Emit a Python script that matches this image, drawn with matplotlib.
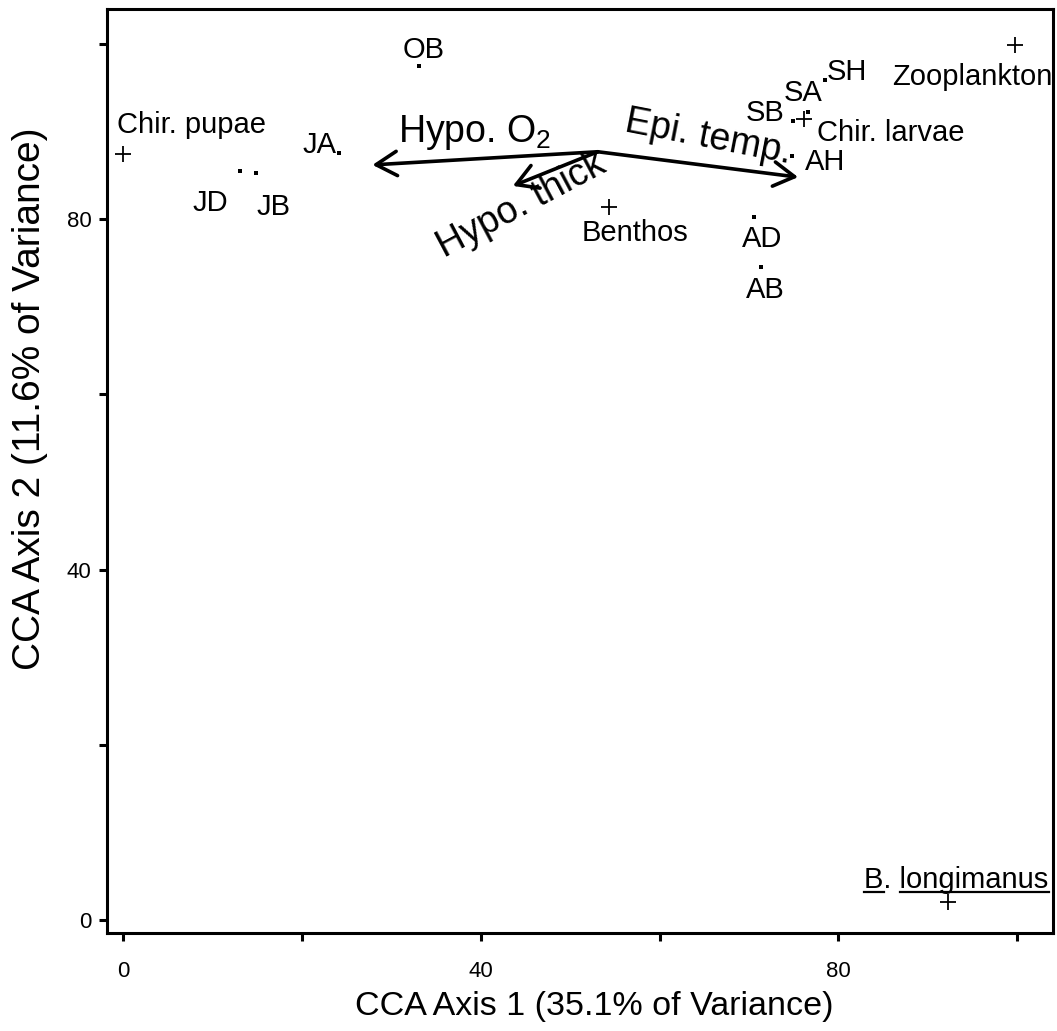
import matplotlib
matplotlib.use("Agg")
import matplotlib.pyplot as plt
from matplotlib.lines import Line2D

plt.rcParams.update({
    "font.family": ["Liberation Sans", "DejaVu Sans"],
    "mathtext.fontset": "custom",
    "mathtext.rm": "Liberation Sans",
    "mathtext.it": "Liberation Sans:italic",
})

# Site scores (sampling stations)
sites = ["JA", "JB", "JD", "OB", "AB", "AD", "AH", "SB", "SA", "SH"]
site_x = [24.2, 14.9, 13.1, 33.1, 71.4, 70.6, 74.8, 74.9, 76.6, 78.5]
site_y = [87.6, 85.3, 85.5, 97.5, 74.5, 80.3, 87.2, 91.2, 92.2, 95.9]

# Species / prey-type scores
prey = ["Chir. pupae", "Benthos", "Chir. larvae", "Zooplankton", "B. longimanus"]
prey_x = [0.0, 54.3, 76.2, 99.8, 92.3]
prey_y = [87.4, 81.4, 91.4, 99.9, 2.05]

# Environmental vectors: common origin and tips
env_origin = (53.1, 87.7)
env_names = ["Hypo. O2", "Hypo. thick", "Epi. temp."]
env_tip_x = [27.9, 43.6, 75.5]
env_tip_y = [86.2, 83.8, 84.8]

xticks = [0, 20, 40, 60, 80, 100]
xtick_labels = ["0", "", "40", "", "80", ""]
yticks = [0, 20, 40, 60, 80, 100]
ytick_labels = ["0", "", "40", "", "80", ""]

fig = plt.figure(figsize=(10.57, 10.31), dpi=100)
ax = fig.add_axes([0.1012, 0.0951, 0.8950, 0.8962])

ax.scatter(site_x, site_y, marker="s", s=7, c="black", lw=0)
ax.scatter(prey_x, prey_y, marker="+", s=130, c="black", lw=1.3)

# Arrows for the environmental variables
for tx, ty in zip(env_tip_x, env_tip_y):
    ax.annotate("", xy=(tx, ty), xytext=env_origin,
                arrowprops=dict(arrowstyle="->,head_length=0.6,head_width=0.35",
                                mutation_scale=25, lw=2.6, color="black",
                                shrinkA=0, shrinkB=0))

fs = 21
lab = dict(fontsize=fs, ha="center", va="center")
# Site labels
site_lab = {
    "JA": (22.0, 88.5), "JB": (16.8, 81.4), "JD": (9.8, 81.8), "OB": (33.6, 99.3),
    "AB": (71.8, 71.9), "AD": (71.5, 77.7), "AH": (78.5, 86.5), "SB": (71.8, 92.1),
    "SA": (76.0, 94.4), "SH": (81.0, 96.8),
}
for name in sites:
    ax.text(*site_lab[name], name, **lab)

ax.text(-0.7, 90.8, "Chir. pupae", fontsize=fs, ha="left", va="center")
ax.text(57.3, 78.4, "Benthos", **lab)
ax.text(77.6, 89.8, "Chir. larvae", fontsize=fs, ha="left", va="center")
ax.text(95.0, 96.2, "Zooplankton", **lab)
bl = ax.text(93.2, 3.65, "B. longimanus", fontsize=fs, ha="center", va="baseline")

# Vector labels
ax.text(39.3, 88.8, "Hypo. O$_2$", fontsize=27, ha="center", va="baseline")
ax.text(65.4, 89.3, "Epi. temp.", fontsize=27, ha="center", va="center", rotation=-11)
ax.text(44.5, 81.6, "Hypo. thick", fontsize=27, ha="center", va="center", rotation=28)

ax.set_xlim(-1.79, 104.0)
ax.set_ylim(-1.48, 104.0)
ax.set_xticks(xticks)
ax.set_xticklabels(xtick_labels)
ax.set_yticks(yticks)
ax.set_yticklabels(ytick_labels)
ax.tick_params(axis="both", direction="out", length=6, width=2.2, labelsize=16)
ax.tick_params(axis="x", pad=14)
ax.tick_params(axis="y", pad=5)
for sp in ax.spines.values():
    sp.set_linewidth(2.2)

ax.set_xlabel("CCA Axis 1 (35.1% of Variance)", fontsize=24.5)
ax.set_ylabel("CCA Axis 2 (11.6% of Variance)", fontsize=28)
ax.xaxis.set_label_coords(0.515, -0.063)
ax.yaxis.set_label_coords(-0.062, 0.578)

# Underline the genus and species names
fig.canvas.draw()
r = fig.canvas.get_renderer()
bb = bl.get_window_extent(r)
tmp = ax.text(0, 0, "B", fontsize=fs)
w_b = tmp.get_window_extent(r).width
tmp.set_text("B. ")
w_bd = tmp.get_window_extent(r).width
tmp.remove()
base_y = ax.transData.transform((0, 3.65))[1] - 4
W, H = fig.bbox.width, fig.bbox.height
for x0, x1 in [(bb.x0, bb.x0 + w_b), (bb.x0 + w_bd, bb.x1)]:
    fig.add_artist(Line2D([x0 / W, x1 / W], [base_y / H, base_y / H],
                          color="black", lw=1.6, transform=fig.transFigure))

fig.savefig("out.png", dpi=100)
